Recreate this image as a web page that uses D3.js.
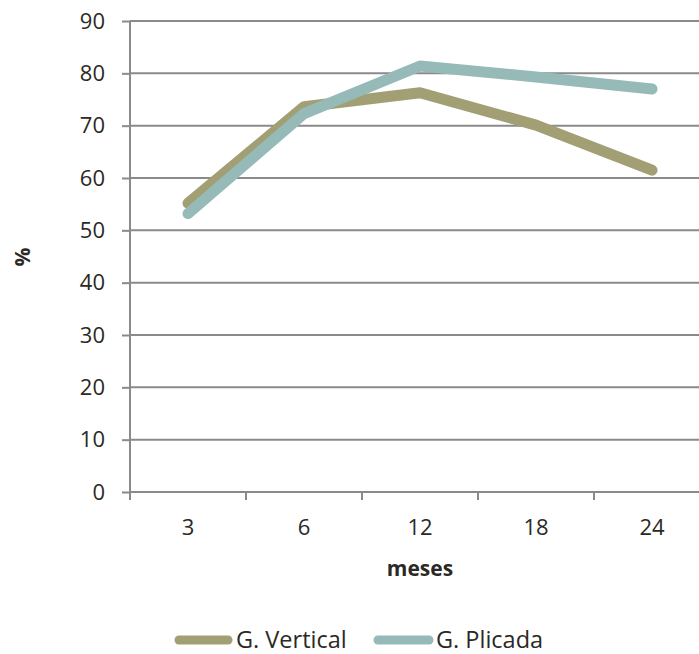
<!DOCTYPE html>
<html>
<head>
<meta charset="utf-8">
<script src="https://cdn.jsdelivr.net/npm/d3@7"></script>
<style>
  html, body { margin: 0; padding: 0; background: #fff; }
  svg { display: block; }
  text { font-family: "Open Sans", sans-serif; fill: #2b2925; }
</style>
</head>
<body>
<svg id="chart" width="699" height="654"></svg>
<script>
// Months after surgery
const categories = ["3", "6", "12", "18", "24"];
// Percentage per group
const verticalValues = [55.2, 73.6, 76.3, 70.1, 61.5];
const plicadaValues  = [53.2, 72.3, 81.4, 79.3, 77.0];
const yTicks = [0, 10, 20, 30, 40, 50, 60, 70, 80, 90];

const series = [
  { name: "G. Vertical", values: verticalValues, color: "#a19f73" },
  { name: "G. Plicada",  values: plicadaValues,  color: "#96bab8" }
];

const svg = d3.select("#chart");
const plotLeft = 130, plotRight = 710, plotTop = 21, plotBottom = 492;

const x = d3.scaleBand().domain(categories).range([plotLeft, plotRight]).padding(0);
const y = d3.scaleLinear().domain([0, 90]).range([plotBottom, plotTop]);

const gridColor = "#8a8a8a";

// horizontal gridlines
svg.append("g")
  .selectAll("line")
  .data(yTicks)
  .join("line")
  .attr("x1", plotLeft).attr("x2", plotRight)
  .attr("y1", d => y(d)).attr("y2", d => y(d))
  .attr("stroke", gridColor).attr("stroke-width", 2);

// y axis
const yAxis = svg.append("g")
  .attr("transform", `translate(${plotLeft},0)`)
  .call(d3.axisLeft(y).tickValues(yTicks).tickSize(8).tickPadding(17).tickFormat(d3.format("d")));
yAxis.select(".domain").attr("stroke", gridColor).attr("stroke-width", 2)
  .attr("d", `M0,${plotTop}V${plotBottom + 8}`);
yAxis.selectAll(".tick line").attr("stroke", gridColor).attr("stroke-width", 2);
yAxis.selectAll(".tick text").attr("font-size", 22).attr("font-family", "Open Sans").attr("fill", "#2b2925");

// x axis: labels at band centres, tick marks at band edges
const xAxis = svg.append("g")
  .attr("transform", `translate(0,${plotBottom})`)
  .call(d3.axisBottom(x).tickSize(0).tickPadding(27));
xAxis.select(".domain").remove();
xAxis.selectAll(".tick text").attr("font-size", 22).attr("font-family", "Open Sans").attr("fill", "#2b2925");

svg.append("g")
  .selectAll("line")
  .data(categories)
  .join("line")
  .attr("x1", d => x(d) + x.bandwidth()).attr("x2", d => x(d) + x.bandwidth())
  .attr("y1", plotBottom).attr("y2", plotBottom + 8)
  .attr("stroke", gridColor).attr("stroke-width", 2);

// axis titles
svg.append("text")
  .attr("x", (plotLeft + plotRight) / 2).attr("y", 576)
  .attr("text-anchor", "middle")
  .attr("font-size", 21).attr("font-weight", "bold")
  .text("meses");

svg.append("text")
  .attr("transform", "translate(30,257) rotate(-90)")
  .attr("text-anchor", "middle")
  .attr("font-size", 21).attr("font-weight", "bold")
  .text("%");

// data lines
const line = d3.line()
  .x((d, i) => x(categories[i]) + x.bandwidth() / 2)
  .y(d => y(d));

svg.append("g")
  .selectAll("path")
  .data(series)
  .join("path")
  .attr("d", d => line(d.values))
  .attr("fill", "none")
  .attr("stroke", d => d.color)
  .attr("stroke-width", 11)
  .attr("stroke-linecap", "round")
  .attr("stroke-linejoin", "round");

// legend
const legendPos = [{ x1: 179, x2: 228, tx: 236 }, { x1: 378, x2: 429, tx: 436 }];
const legend = svg.append("g")
  .selectAll("g")
  .data(series)
  .join("g");
legend.append("line")
  .attr("x1", (d, i) => legendPos[i].x1).attr("x2", (d, i) => legendPos[i].x2)
  .attr("y1", 640).attr("y2", 640)
  .attr("stroke", d => d.color).attr("stroke-width", 9)
  .attr("stroke-linecap", "round");
legend.append("text")
  .attr("x", (d, i) => legendPos[i].tx).attr("y", 648)
  .attr("font-size", 23.5)
  .text(d => d.name);
</script>
</body>
</html>
